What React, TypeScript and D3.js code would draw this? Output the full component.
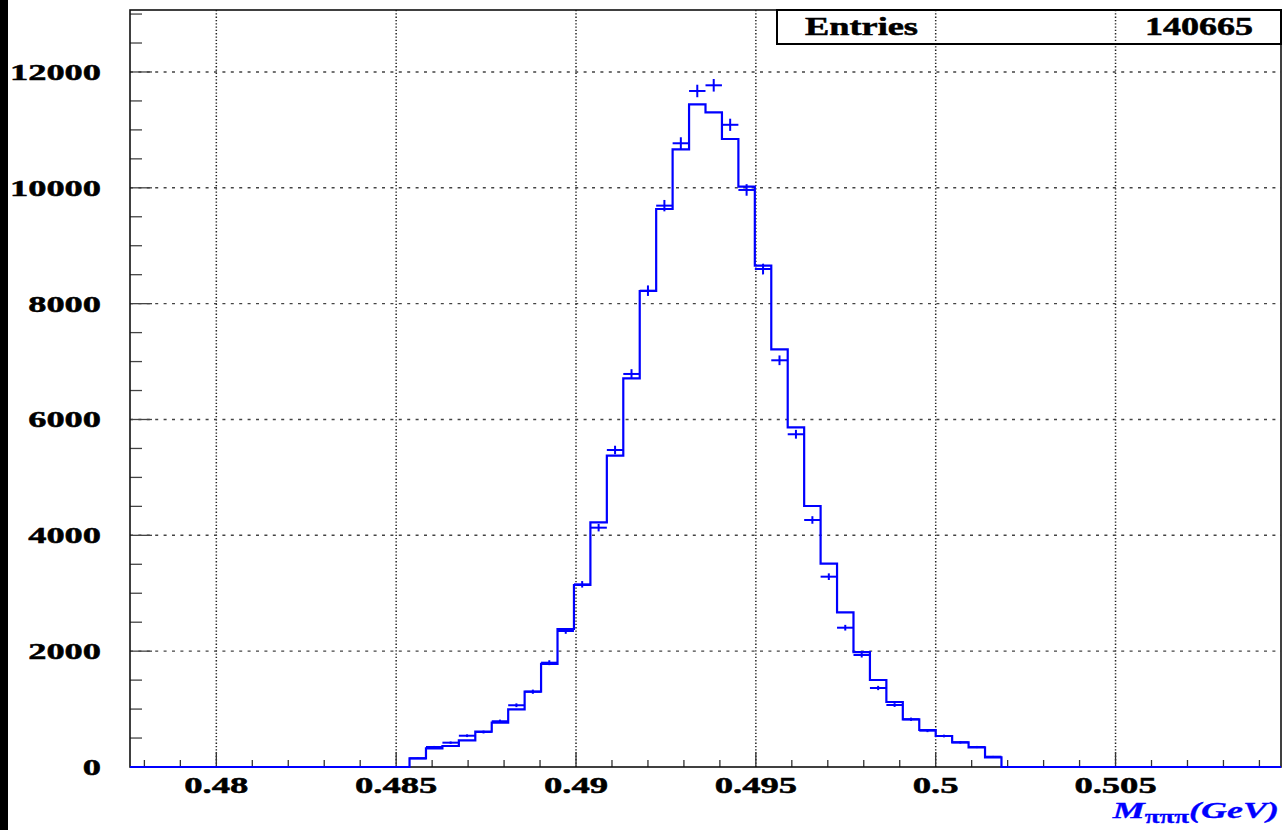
import * as React from "react";
import * as d3 from "d3";

// histogram binning (70 bins)
const binLow = 0.4776;
const binHigh = 0.5096;
const nBins = 70;
const entries = 140665;

// step histogram contents, bin 0..69
const histCounts = [
  0, 0, 0, 0, 0, 0, 0, 0, 0, 0,
  0, 0, 0, 0, 0, 0, 0, 150, 323, 363,
  461, 610, 765, 996, 1300, 1779, 2383, 3142, 4225, 5375,
  6711, 8218, 9634, 10665, 11442, 11304, 10843, 10020, 8655, 7212,
  5865, 4506, 3511, 2671, 1985, 1502, 1122, 824, 639, 535,
  426, 340, 167, 0, 0, 0, 0, 0, 0, 0,
  0, 0, 0, 0, 0, 0, 0, 0, 0, 0,
];

// points with error bars, bin 0..69
const pointCounts = [
  0, 0, 0, 0, 0, 0, 0, 0, 0, 0,
  0, 0, 0, 0, 0, 0, 0, 150, 345, 420,
  540, 604, 790, 1066, 1300, 1801, 2348, 3154, 4132, 5473,
  6786, 8224, 9692, 10769, 11672, 11770, 11088, 9963, 8598, 7022,
  5745, 4265, 3286, 2405, 1934, 1364, 1070, 824, 627, 535,
  426, 345, 178, 0, 0, 0, 0, 0, 0, 0,
  0, 0, 0, 0, 0, 0, 0, 0, 0, 0,
];

const xTickValues = [0.48, 0.485, 0.49, 0.495, 0.5, 0.505];
const xTickLabels = ["0.48", "0.485", "0.49", "0.495", "0.5", "0.505"];
const yTickValues = [0, 2000, 4000, 6000, 8000, 10000, 12000];
const yTickLabels = ["0", "2000", "4000", "6000", "8000", "10000", "12000"];
const yMax = 13070;

const W = 1287;
const H = 830;
const frame = { left: 130, right: 1281, top: 10, bottom: 767 };
const blue = "#0000ff";
const font = "'Liberation Serif', 'Times New Roman', serif";

// the picture is stretched sideways, so text gets a fixed width per glyph
const labelWidth = (s: string) =>
  s.split("").reduce((w, ch) => w + (ch === "." ? 9.5 : 18.2), 0);

const Label = ({ x, y, anchor, size = 24, len, children }: any) => (
  <text
    x={x}
    y={y}
    textAnchor={anchor}
    fontFamily={font}
    fontWeight="bold"
    fontSize={size}
    fill="#000"
    stroke="#000"
    strokeWidth={0.5}
    textLength={len}
    lengthAdjust="spacingAndGlyphs"
  >
    {children}
  </text>
);

export default function App() {
  const x = d3.scaleLinear().domain([binLow, binHigh]).range([frame.left, frame.right]);
  const y = d3.scaleLinear().domain([0, yMax]).range([frame.bottom, frame.top]);
  const bw = (binHigh - binLow) / nBins;
  const edge = (i: number) => binLow + i * bw;

  const stepPts: [number, number][] = histCounts.map((c, i) => [x(edge(i)), y(c)]);
  stepPts.push([x(edge(nBins)), y(histCounts[nBins - 1])]);
  const stepPath = d3.line().curve(d3.curveStepAfter)(stepPts) || "";

  const xMinor = d3.range(478, 510).map((v) => v / 1000);
  const yMinor = d3.range(0, yMax, 500);

  return (
    <svg width={W} height={H} style={{ position: "absolute", left: 0, top: 0, background: "#fff" }}>
      <rect x={0} y={0} width={8} height={H} fill="#000" />

      {/* grid */}
      {xTickValues.map((v) => (
        <line key={"gx" + v} x1={x(v)} x2={x(v)} y1={frame.top} y2={frame.bottom}
          stroke="#222" strokeWidth={1.5} strokeDasharray="1.3 2" />
      ))}
      {yTickValues.slice(1).map((v) => (
        <line key={"gy" + v} x1={frame.left} x2={frame.right} y1={y(v)} y2={y(v)}
          stroke="#444" strokeWidth={1.4} strokeDasharray="3 5.4" />
      ))}

      {/* ticks */}
      {xMinor.map((v) => {
        const major = xTickValues.some((t) => Math.abs(t - v) < 1e-9);
        return (
          <line key={"tx" + v} x1={x(v)} x2={x(v)} y1={frame.bottom} y2={frame.bottom - (major ? 15 : 7)}
            stroke="#333" strokeWidth={1.3} />
        );
      })}
      {yMinor.map((v) => (
        <line key={"ty" + v} x1={frame.left} x2={frame.left + (v % 2000 === 0 ? 22 : 12)} y1={y(v)} y2={y(v)}
          stroke="#444" strokeWidth={1.3} />
      ))}

      {/* frame */}
      <rect x={frame.left} y={frame.top} width={frame.right - frame.left} height={frame.bottom - frame.top}
        fill="none" stroke="#111" strokeWidth={1.6} />

      {/* histogram */}
      <path d={stepPath} fill="none" stroke={blue} strokeWidth={2.2} />

      {/* points with errors */}
      {pointCounts.map((c, i) => {
        if (c <= 0) return null;
        const e = Math.sqrt(c);
        const cx = x(edge(i) + bw / 2);
        return (
          <g key={"p" + i} stroke={blue} strokeWidth={2}>
            <line x1={x(edge(i))} x2={x(edge(i + 1))} y1={y(c)} y2={y(c)} />
            <line x1={cx} x2={cx} y1={y(c - e)} y2={y(c + e)} />
          </g>
        );
      })}

      {/* axis labels */}
      {xTickValues.map((v, i) => (
        <Label key={"lx" + v} x={x(v)} y={793} anchor="middle" len={labelWidth(xTickLabels[i])}>
          {xTickLabels[i]}
        </Label>
      ))}
      {yTickValues.map((v, i) => (
        <Label key={"ly" + v} x={101} y={y(v) + 8} anchor="end" len={labelWidth(yTickLabels[i])}>
          {yTickLabels[i]}
        </Label>
      ))}

      {/* x title */}
      <text transform="translate(1279,818) scale(1.5,1)" textAnchor="end" fontFamily={font}
        fontWeight="bold" fontStyle="italic" fontSize={24} fill={blue} stroke={blue} strokeWidth={0.3}>
        M<tspan fontSize={18} fontStyle="normal" dy={5}>πππ</tspan><tspan dy={-5}>(GeV)</tspan>
      </text>

      {/* stats box */}
      <rect x={777} y={frame.top} width={frame.right - 777} height={34} fill="none" stroke="#000" strokeWidth={2} />
      <Label x={805} y={35} anchor="start" size={25} len={113}>Entries</Label>
      <Label x={1253} y={35} anchor="end" size={25} len={108}>{String(entries)}</Label>
    </svg>
  );
}
